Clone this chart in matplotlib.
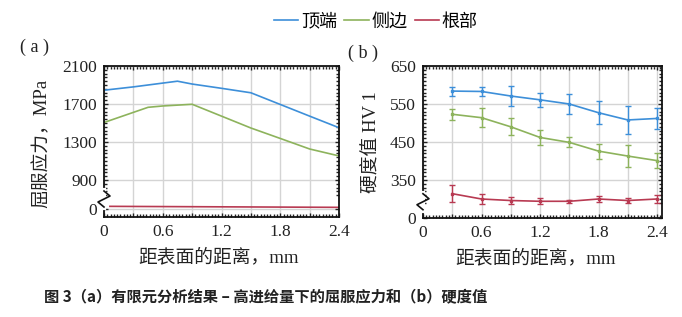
import numpy as np
import matplotlib
matplotlib.use('Agg')
import matplotlib.pyplot as plt
from matplotlib.ticker import FixedLocator, FuncFormatter, AutoMinorLocator

plt.rcParams['font.family'] = ['Liberation Serif', 'Noto Sans CJK SC']

# (a) yield stress from FE analysis
x_top_a = [0, 0.3, 0.6, 0.75, 0.9, 1.2, 1.5, 1.8, 2.1, 2.4]
top_a = [1845, 1880, 1920, 1940, 1910, 1865, 1818, 1695, 1572, 1450]
x_side_a = [0, 0.45, 0.6, 0.9, 1.2, 1.5, 1.8, 2.1, 2.4]
side_a = [1505, 1665, 1679, 1697, 1572, 1447, 1337, 1226, 1153]
x_root_a = [0.06, 2.4]
root_a = [180, 110]

# (b) hardness HV1
x_b = [0.3, 0.6, 0.9, 1.2, 1.5, 1.8, 2.1, 2.4]
top_b = [584, 583, 571, 561, 550, 527, 508, 512]
top_err = [12, 12, 27, 19, 27, 30, 37, 27]
side_b = [523, 514, 490, 462, 449, 426, 413, 401]
side_err = [15, 25, 22, 19, 13, 20, 29, 20]
root_b = [314, 300, 296, 294, 294, 300, 296, 300]
root_err = [22, 12, 8, 8, 4, 8, 7, 10]

names = ['顶端', '侧边', '根部']
colors = ['#3d8fd9', '#8db35c', '#b83a52']


def make_scale(brk, k):
    # broken axis: values below brk squeezed by factor k
    def fwd(y):
        y = np.asarray(y, float)
        return np.where(y >= brk, y, brk - (brk - y) * k)

    def inv(y):
        y = np.asarray(y, float)
        return np.where(y >= brk, y, brk - (brk - y) / k)
    return fwd, inv


def style_axes(ax, yticks, ymin_minor, ymax, ystep):
    ax.set_xlim(0, 2.42)
    ax.xaxis.set_major_locator(FixedLocator(np.arange(0, 2.41, 0.3)))
    ax.xaxis.set_major_formatter(FuncFormatter(
        lambda v, p: ('0' if abs(v) < 1e-6 else f'{v:.1f}') if round(v / 0.3) % 2 == 0 else ''))
    ax.xaxis.set_minor_locator(AutoMinorLocator(9))
    ax.yaxis.set_major_locator(FixedLocator(yticks))
    ax.yaxis.set_minor_locator(FixedLocator(np.arange(ymin_minor, ymax + 1, ystep)))
    ax.tick_params(which='both', direction='in', top=True, right=True,
                   labelsize=12.5, colors='#222222', width=1.0)
    ax.tick_params(which='major', length=3, pad=5)
    ax.tick_params(which='minor', length=2)
    ax.grid(True, which='major', color='#d4d4d4', lw=1.0)
    for s in ax.spines.values():
        s.set_linewidth(1.3)
        s.set_color('#111111')
    ax.set_axisbelow(True)


def break_mark(ax, yfrac, w_px, h_px):
    dx = 1.0 / w_px
    dy = 1.0 / h_px
    ax.plot([0, 0], [yfrac - 9 * dy, yfrac + 9 * dy], color='white', lw=3,
            transform=ax.transAxes, clip_on=False, zorder=5)
    ax.plot([0, 6 * dx, -6 * dx, 0],
            [yfrac + 8 * dy, yfrac + 3 * dy, yfrac - 3 * dy, yfrac - 8 * dy],
            color='#111111', lw=1.2, transform=ax.transAxes, clip_on=False, zorder=6)


fig = plt.figure(figsize=(6.82, 3.17), dpi=100)
ax1 = fig.add_axes([0.1525, 0.3155, 0.3446, 0.4763])
ax2 = fig.add_axes([0.6202, 0.3123, 0.3504, 0.4795])

# panel a
ax1.set_yscale('function', functions=make_scale(700, 0.15))
l1, = ax1.plot(x_top_a, top_a, color=colors[0], lw=1.2)
l2, = ax1.plot(x_side_a, side_a, color=colors[1], lw=1.2)
l3, = ax1.plot(x_root_a, root_a, color=colors[2], lw=1.2)
ax1.set_ylim(-567, 2100)
style_axes(ax1, [0, 900, 1300, 1700, 2100], 740, 2100, 40)
ax1.set_xlim(0, 2.4)
break_mark(ax1, 0.119, 235, 151)

# panel b
ax2.set_yscale('function', functions=make_scale(280, 30 / 280))
for y, e, c in [(top_b, top_err, colors[0]), (side_b, side_err, colors[1]),
                (root_b, root_err, colors[2])]:
    ax2.errorbar(x_b, y, yerr=e, color=c, lw=1.2, elinewidth=1.0, capsize=2,
                 capthick=1.0, marker='s', ms=2)
ax2.set_ylim(0, 650)
style_axes(ax2, [0, 350, 450, 550, 650], 290, 650, 10)
ax2.set_xlim(0, 2.45)
break_mark(ax2, 0.107, 239, 152)

fig.legend([l1, l2, l3], names, loc='center', bbox_to_anchor=(0.551, 0.93), ncol=3,
           frameon=False, fontsize=13, handlelength=1.35, handletextpad=0.15,
           columnspacing=0.4)

lab = dict(color='#222222', ha='center', va='center')
fig.text(20 / 682, 1 - 47 / 317, '( a )', fontsize=13, va='center', color='#222222')
fig.text(348 / 682, 1 - 53 / 317, '( b )', fontsize=13, va='center', color='#222222')
fig.text(42 / 682, 1 - 143 / 317, '屈服应力，MPa', rotation=90, fontsize=13.5, **lab)
fig.text(372 / 682, 1 - 142 / 317, '硬度值 HV 1', rotation=90, fontsize=13.5, **lab)
fig.text(219 / 682, 1 - 257 / 317, '距表面的距离，mm', fontsize=13.5, **lab)
fig.text(536 / 682, 1 - 258 / 317, '距表面的距离，mm', fontsize=13.5, **lab)
fig.text(266 / 682, 1 - 297 / 317, '图 3（a）有限元分析结果 – 高进给量下的屈服应力和（b）硬度值',
         fontsize=11, fontweight='bold', family=['Noto Sans CJK SC', 'DejaVu Sans'], **lab)

fig.savefig('out.png', dpi=100)
